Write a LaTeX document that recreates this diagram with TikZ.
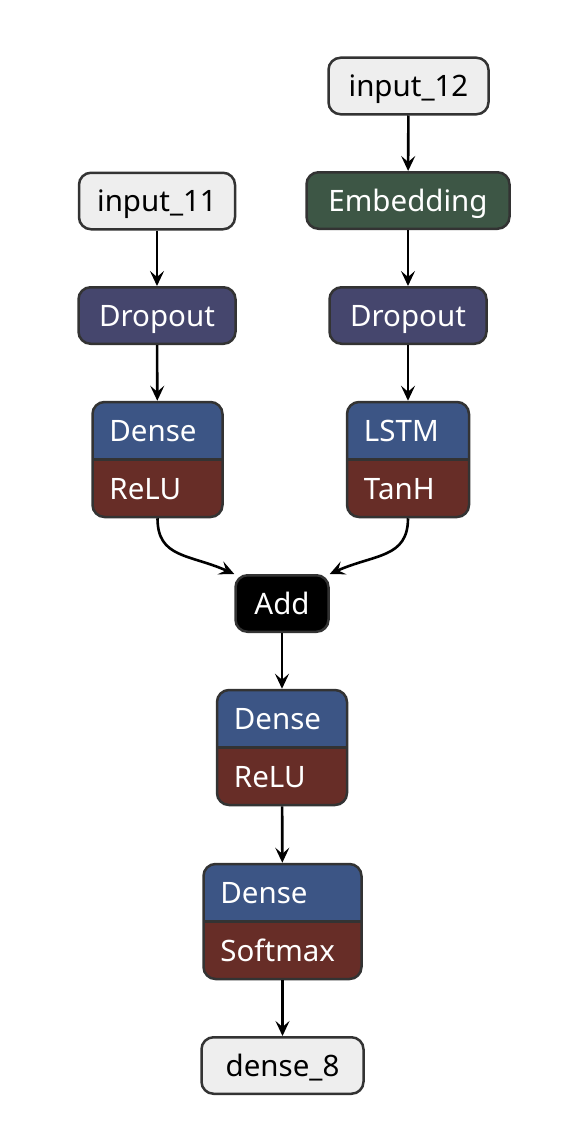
\documentclass[tikz,border=0pt]{standalone}
\usepackage{fontspec}
\setmainfont{Noto Sans}
\usetikzlibrary{arrows.meta,calc}
\definecolor{gfill}{HTML}{EEEEEE}
\definecolor{bord}{HTML}{333333}
\definecolor{drop}{HTML}{45466D}
\definecolor{emb}{HTML}{3D5645}
\definecolor{dblue}{HTML}{3C5585}
\definecolor{dred}{HTML}{672D27}
\tikzset{
  txt/.style={font=\fontsize{29.5}{32}\selectfont, text height=21pt, text depth=0pt},
  box/.style={draw=bord, line width=2.5pt, rounded corners=12pt, inner sep=0pt,
    txt, minimum height=56.5pt},
  inbox/.style={box, fill=gfill, text=black},
  dropbox/.style={box, fill=drop, text=white},
  embbox/.style={box, fill=emb, text=white},
  addbox/.style={box, fill=black, text=white},
  twobox/.style={draw=bord, line width=2.5pt, rounded corners=12pt, inner sep=0pt,
    minimum height=115pt,
    path picture={
      \fill[dblue, sharp corners] (path picture bounding box.north west) rectangle (path picture bounding box.east);
      \fill[dred, sharp corners] (path picture bounding box.west) rectangle (path picture bounding box.south east);
      \draw[bord, line width=2.5pt, sharp corners] (path picture bounding box.west) -- (path picture bounding box.east);
    }},
  lbl/.style={anchor=west, text=white, inner sep=0pt, txt},
  conn/.style={line width=2.6pt, -{Stealth[length=15pt,width=14pt,inset=6pt]}},
}
\begin{document}
\begin{tikzpicture}[x=1pt,y=-1pt]
\useasboundingbox (0,0) rectangle (574,1140);
% left column
\node[inbox, minimum width=156pt] (in11) at (157,201) {input\_11};
\node[dropbox, minimum width=157pt] (dropL) at (157,315.5) {Dropout};
\node[twobox, minimum width=130pt] (denseL) at (157.5,459.5) {};
\node[lbl] (denseLa) at ($(denseL.west)+(18,-29)$) {Dense};
\node[lbl] (denseLb) at ($(denseL.west)+(18,29)$) {ReLU};
% right column
\node[inbox, minimum width=160pt] (in12) at (408.5,86) {input\_12};
\node[embbox, minimum width=203pt] (emb) at (408,200.5) {Embedding};
\node[dropbox, minimum width=157pt] (dropR) at (408,315.5) {Dropout};
\node[twobox, minimum width=122pt] (lstm) at (408,459.5) {};
\node[lbl] (lstma) at ($(lstm.west)+(18,-29)$) {LSTM};
\node[lbl] (lstmb) at ($(lstm.west)+(18,29)$) {TanH};
% middle
\node[addbox, minimum width=93pt] (add) at (282,603.5) {Add};
\node[twobox, minimum width=130pt] (dense2) at (282,747.5) {};
\node[lbl] (dense2a) at ($(dense2.west)+(18,-29)$) {Dense};
\node[lbl] (dense2b) at ($(dense2.west)+(18,29)$) {ReLU};
\node[twobox, minimum width=158pt] (dense3) at (282.5,921.5) {};
\node[lbl] (dense3a) at ($(dense3.west)+(18,-29)$) {Dense};
\node[lbl] (dense3b) at ($(dense3.west)+(18,29)$) {Softmax};
\node[inbox, minimum width=162pt] (out) at (282.5,1065.5) {dense\_8};
% connectors
\draw[conn] (in11) -- (dropL);
\draw[conn] (dropL) -- (denseL);
\draw[conn] (in12) -- (emb);
\draw[conn] (emb) -- (dropR);
\draw[conn] (dropR) -- (lstm);
\draw[conn] (denseL.south) .. controls +(0,40) and +(-45,-20) .. (add.north west);
\draw[conn] (lstm.south) .. controls +(0,40) and +(45,-20) .. (add.north east);
\draw[conn] (add) -- (dense2);
\draw[conn] (dense2) -- (dense3);
\draw[conn] (dense3) -- (out);
\end{tikzpicture}
\end{document}
